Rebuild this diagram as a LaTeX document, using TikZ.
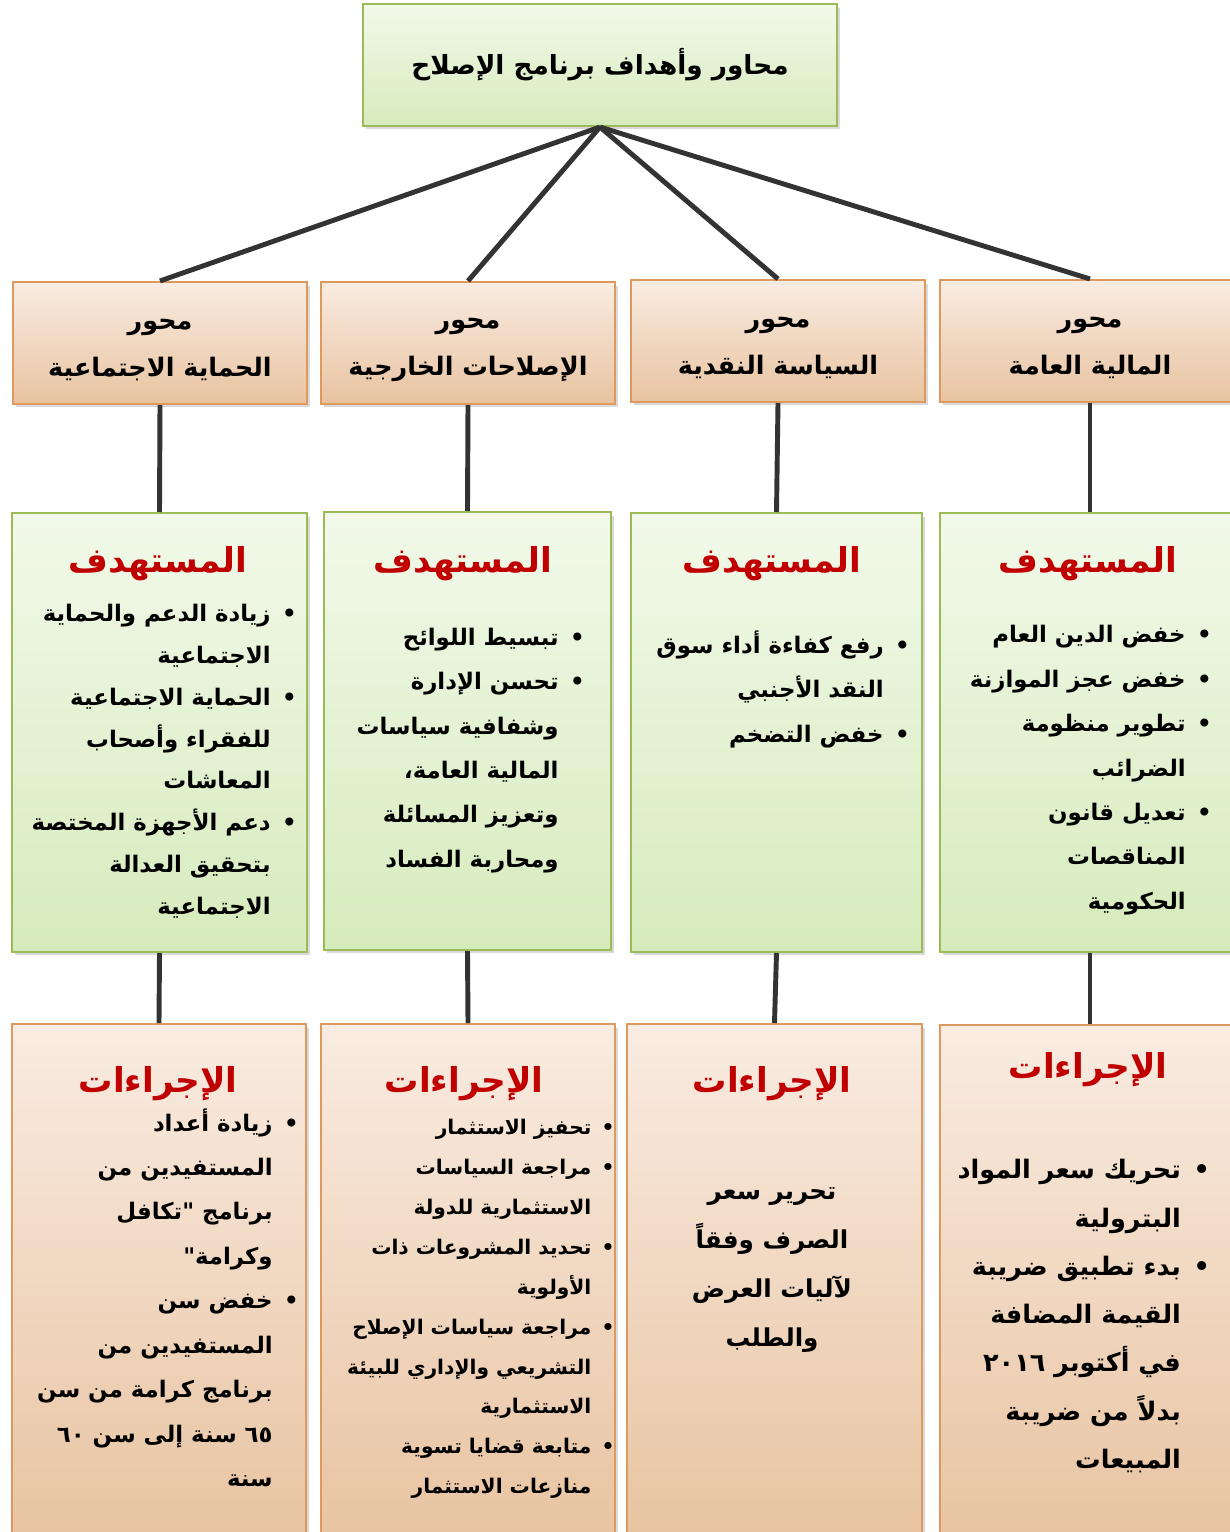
\documentclass[tikz,border=0pt]{standalone}
\usepackage{fontspec}
\usepackage{xcolor}
\usetikzlibrary{positioning,shadows}
\newfontfamily\arabicfont[Script=Arabic]{DejaVu Sans}
\TeXXeTstate=1
\definecolor{greentop}{HTML}{F2F9EA}
\definecolor{greenbot}{HTML}{D6EBBC}
\definecolor{greenline}{HTML}{9BBB59}
\definecolor{orangetop}{HTML}{F9ECE2}
\definecolor{orangebot}{HTML}{E8C3A0}
\definecolor{orangeline}{HTML}{DE9A5E}
\definecolor{redhead}{HTML}{C00000}
\definecolor{linkgray}{HTML}{333333}
\newcommand{\ar}[1]{\beginR#1\endR}
\newcommand{\bul}[1]{\beginR\makebox[0.45em]{\textbullet}\hspace{0.6em}#1\endR}
\newcommand{\cnt}[1]{\beginR\hspace*{1.05em}#1\endR}
\tikzset{
  box/.style={draw,line width=1.2pt,inner sep=0pt,
    drop shadow={opacity=0.3,shadow xshift=0.6mm,shadow yshift=-0.7mm}},
  greenbox/.style={box,draw=greenline,top color=greentop,bottom color=greenbot},
  orangebox/.style={box,draw=orangeline,top color=orangetop,bottom color=orangebot},
  link/.style={draw=linkgray,line width=2.8pt},
  ttl/.style={font=\arabicfont\bfseries\fontsize{15}{18}\selectfont},
  axtxt/.style={align=center,yshift=-1.4mm,
    font=\arabicfont\bfseries\fontsize{14.5}{26.7}\selectfont},
  hd/.style={text=redhead,font=\arabicfont\bfseries\fontsize{19.5}{22}\selectfont},
  lst/.style={align=right,inner sep=0pt,anchor=north east,
    font=\arabicfont\bfseries\fontsize{13}{#1}\selectfont},
  lst/.default=25pt
}
\begin{document}
\begin{tikzpicture}[x=0.02cm,y=-0.02cm]
  \useasboundingbox (0,0) rectangle (1230,1532);
  % title
  \node[greenbox,minimum width=9.48cm,minimum height=2.44cm] (title) at (600,65) {};
  \node[ttl] (titletxt) at (title.center) {\ar{محاور وأهداف برنامج الإصلاح}};
  % axes
  \node[orangebox,minimum width=5.88cm,minimum height=2.44cm] (ax1) at (160,343) {};
  \node[orangebox,minimum width=5.88cm,minimum height=2.44cm] (ax2) at (468,343) {};
  \node[orangebox,minimum width=5.88cm,minimum height=2.44cm] (ax3) at (778,341) {};
  \node[orangebox,minimum width=6.0cm,minimum height=2.44cm] (ax4) at (1090,341) {};
  \node[axtxt] (ax1txt) at (ax1) {\ar{محور}\\\ar{الحماية الاجتماعية}};
  \node[axtxt] (ax2txt) at (ax2) {\ar{محور}\\\ar{الإصلاحات الخارجية}};
  \node[axtxt] (ax3txt) at (ax3) {\ar{محور}\\\ar{السياسة النقدية}};
  \node[axtxt] (ax4txt) at (ax4) {\ar{محور}\\\ar{المالية العامة}};
  % targets
  \node[greenbox,minimum width=5.9cm,minimum height=8.78cm] (tg1) at (159.5,732.5) {};
  \node[greenbox,minimum width=5.74cm,minimum height=8.76cm] (tg2) at (467.5,731) {};
  \node[greenbox,minimum width=5.82cm,minimum height=8.78cm] (tg3) at (776.5,732.5) {};
  \node[greenbox,minimum width=6.0cm,minimum height=8.78cm] (tg4) at (1090,732.5) {};
  % measures
  \node[orangebox,minimum width=5.88cm,minimum height=10.42cm] (ms1) at (159,1284.5) {};
  \node[orangebox,minimum width=5.88cm,minimum height=10.42cm] (ms2) at (468,1284.5) {};
  \node[orangebox,minimum width=5.9cm,minimum height=10.42cm] (ms3) at (774.5,1284.5) {};
  \node[orangebox,minimum width=6.0cm,minimum height=10.4cm] (ms4) at (1090,1285) {};
  % connectors
  \foreach \n in {ax1,ax2,ax3,ax4} \draw[link] (title.south) -- (\n.north);
  \foreach \i in {1,2,3,4} {
    \draw[link] (ax\i.south) -- (tg\i.north);
    \draw[link] (tg\i.south) -- (ms\i.north);
  }
  % headings
  \node[hd] (tg1hd) at (158,564) {\ar{المستهدف}};
  \node[hd] (tg2hd) at (463,564) {\ar{المستهدف}};
  \node[hd] (tg3hd) at (772,564) {\ar{المستهدف}};
  \node[hd] (tg4hd) at (1088,564) {\ar{المستهدف}};
  \node[hd] (ms1hd) at (158,1084) {\ar{الإجراءات}};
  \node[hd] (ms2hd) at (464,1084) {\ar{الإجراءات}};
  \node[hd] (ms3hd) at (772,1084) {\ar{الإجراءات}};
  \node[hd] (ms4hd) at (1088,1070) {\ar{الإجراءات}};
  % target lists
  \node[lst=23.8pt] (tg1txt) at (295,604) {\bul{زيادة الدعم والحماية}\\
    \cnt{الاجتماعية}\\\bul{الحماية الاجتماعية}\\\cnt{للفقراء وأصحاب}\\
    \cnt{المعاشات}\\\bul{دعم الأجهزة المختصة}\\\cnt{بتحقيق العدالة}\\
    \cnt{الاجتماعية}};
  \node[lst=25.2pt] (tg2txt) at (583,628) {\bul{تبسيط اللوائح}\\
    \bul{تحسن الإدارة}\\\cnt{وشفافية سياسات}\\\cnt{المالية العامة،}\\
    \cnt{وتعزيز المسائلة}\\\cnt{ومحاربة الفساد}};
  \node[lst=25.5pt] (tg3txt) at (908,630) {\bul{رفع كفاءة أداء سوق}\\
    \cnt{النقد الأجنبي}\\\bul{خفض التضخم}};
  \node[lst=25.3pt] (tg4txt) at (1210,625) {\bul{خفض الدين العام}\\
    \bul{خفض عجز الموازنة}\\\bul{تطوير منظومة}\\\cnt{الضرائب}\\
    \bul{تعديل قانون}\\\cnt{المناقصات}\\\cnt{الحكومية}};
  % measure lists
  \node[lst=25.3pt] (ms1txt) at (297,1108) {\bul{زيادة أعداد}\\
    \cnt{المستفيدين من}\\\cnt{برنامج "تكافل}\\\cnt{وكرامة"}\\
    \bul{خفض سن}\\\cnt{المستفيدين من}\\\cnt{برنامج كرامة من سن}\\
    \cnt{\beginL٦٥\endL{} سنة إلى سن \beginL٦٠\endL}\\\cnt{سنة}};
  \node[lst=22.7pt,font=\arabicfont\bfseries\fontsize{11.5}{22.7}\selectfont] (ms2txt)
    at (613,1119) {\bul{تحفيز الاستثمار}\\
    \bul{مراجعة السياسات}\\\cnt{الاستثمارية للدولة}\\
    \bul{تحديد المشروعات ذات}\\\cnt{الأولوية}\\
    \bul{مراجعة سياسات الإصلاح}\\\cnt{التشريعي والإداري للبيئة}\\
    \cnt{الاستثمارية}\\\bul{متابعة قضايا تسوية}\\\cnt{منازعات الاستثمار}};
  \node[align=center,font=\arabicfont\bfseries\fontsize{14}{27.8}\selectfont] (ms3txt)
    at (772,1270) {\ar{تحرير سعر}\\\ar{الصرف وفقاً}\\\ar{لآليات العرض}\\\ar{والطلب}};
  \node[lst=27.5pt,font=\arabicfont\bfseries\fontsize{14.5}{27.5}\selectfont] (ms4txt)
    at (1208,1159) {\bul{تحريك سعر المواد}\\
    \cnt{البترولية}\\\bul{بدء تطبيق ضريبة}\\\cnt{القيمة المضافة}\\
    \cnt{في أكتوبر \beginL٢٠١٦\endL}\\\cnt{بدلاً من ضريبة}\\\cnt{المبيعات}};
\end{tikzpicture}
\end{document}
